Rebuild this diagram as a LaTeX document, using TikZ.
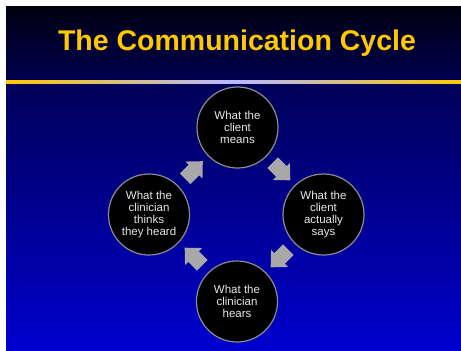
\documentclass[tikz,border=0pt]{standalone}
\usepackage{fontspec}
\setmainfont{Liberation Sans}
\definecolor{gold}{HTML}{FFC800}
\definecolor{hdrtop}{HTML}{000010}
\definecolor{hdrbot}{HTML}{000050}
\definecolor{bodytop}{HTML}{000058}
\definecolor{bodybot}{HTML}{0000D0}
\definecolor{lav}{HTML}{B8B8FF}
\definecolor{ring}{HTML}{8C8C8C}
\definecolor{txt}{HTML}{E8E8E8}
\definecolor{arr}{HTML}{A8A8A8}
\tikzset{
  stage/.style={circle, fill=black, draw=ring, line width=1.2pt, minimum size=81pt,
    inner sep=0pt, text=txt, align=center,
    font=\fontsize{11.5pt}{12pt}\selectfont},
  blockarrow/.style={fill=arr, draw=none}
}
\begin{document}
\begin{tikzpicture}[x=1pt,y=-1pt]
\useasboundingbox (0,0) rectangle (461,351);
\fill[white] (0,0) rectangle (461,351);
% header
\shade[top color=hdrtop, bottom color=hdrbot] (6,6) rectangle (461,80);
% body
\shade[top color=bodytop, bottom color=bodybot] (6,83) rectangle (461,351);
% gold line
\shade[left color=gold, right color=gold, middle color=lav] (6,80) rectangle (461,83);
% title
\node[text=gold, font=\bfseries\fontsize{28.5pt}{31pt}\selectfont] (title) at (237,43.5) {The Communication Cycle};
% circles
\node[stage] (means) at (237.5,127.5) {What the\\client\\means};
\node[stage] (says) at (323.5,214.5) {What the\\client\\actually\\says};
\node[stage] (hears) at (237,301.5) {What the\\clinician\\hears};
\node[stage] (thinks) at (149,214.5) {What the\\clinician\\thinks\\they heard};
% block arrows
\foreach \cx/\cy/\ang in {279/169/-45, 282/256/-135, 196/259/135, 191.5/172.5/45}{
  \begin{scope}[shift={(\cx,\cy)}, rotate=\ang, xshift=3.5pt]
    \fill[blockarrow] (-12.5,-7.5) -- (0,-7.5) -- (0,-12) -- (12.5,0) -- (0,12) -- (0,7.5) -- (-12.5,7.5) -- cycle;
  \end{scope}
}
\end{tikzpicture}
\end{document}
